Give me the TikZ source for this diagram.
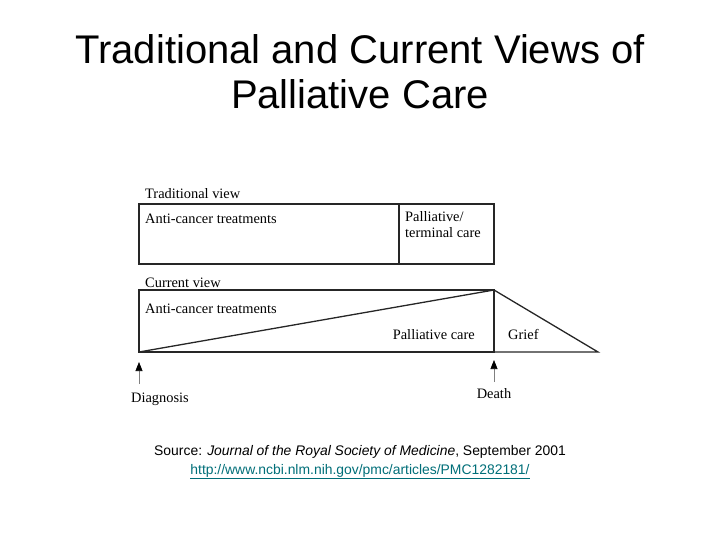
\documentclass[tikz,border=0pt]{standalone}
\usepackage{fontspec}
\setmainfont{Liberation Serif}
\newfontfamily\titlefont{Liberation Sans}
\usepackage{xcolor}
\usetikzlibrary{arrows.meta}
\definecolor{linkteal}{RGB}{0,110,120}

\begin{document}
\begin{tikzpicture}[x=1pt, y=-1pt,
    boxline/.style={line width=1.3pt, black!85},
    boxtext/.style={font=\fontsize{14.4}{16}\selectfont, inner sep=0pt},
    marker/.style={-{Triangle[width=7pt,length=9pt,black]}, gray, line width=0.6pt}]

        % Page frame
        \useasboundingbox (0,0) rectangle (720,540);

        % Title (base anchor sits on the second line)
        \node[font=\titlefont\fontsize{40}{45}\selectfont, align=center, anchor=base] (title) at (360,109)
            {Traditional and Current Views of\\Palliative Care};

        % Traditional view box
        \coordinate (tl) at (139,204);
        \coordinate (tr) at (494,264);
        \coordinate (tdivtop) at (399,204);
        \coordinate (tdivbot) at (399,264);
        \draw[boxline] (tl) rectangle (tr);
        \draw[boxline] (tdivtop) -- (tdivbot);
        \node[boxtext, anchor=base west] (tvlabel) at (145,199) {Traditional view};
        \node[boxtext, anchor=base west] (tanti) at (145,223) {Anti-cancer treatments};
        \node[boxtext, anchor=north west, align=left] (tpall) at (405,211) {Palliative/\\terminal care};

        % Current view box with diagonal
        \coordinate (cl) at (139,290);
        \coordinate (cbl) at (139,352);
        \coordinate (ctr) at (494,290);
        \coordinate (cbr) at (494,352);
        \coordinate (gend) at (598,352);
        \draw[boxline] (cl) -- (ctr) -- (cbr) -- (cbl) -- cycle;
        \draw[boxline] (cbl) -- (ctr) -- (gend) -- (cbr);
        \node[boxtext, anchor=base west] (cvlabel) at (145,287) {Current view};
        \node[boxtext, anchor=base west] (canti) at (145,313) {Anti-cancer treatments};
        \node[boxtext, anchor=base east] (cpall) at (475,339) {Palliative care};
        \node[boxtext, anchor=base west] (grief) at (508,339) {Grief};

        % Diagnosis and death markers
        \coordinate (diagfoot) at (139,384);
        \coordinate (diagtip) at (139,362);
        \coordinate (deathfoot) at (494,382);
        \coordinate (deathtip) at (494,360);
        \draw[marker] (diagfoot) -- (diagtip);
        \draw[marker] (deathfoot) -- (deathtip);
        \node[boxtext, anchor=base] (diag) at (160,402) {Diagnosis};
        \node[boxtext, anchor=base] (death) at (494,398) {Death};

        % Source line
        \node[font=\titlefont\fontsize{13.9}{16}\selectfont, anchor=base] (source) at (360,455)
            {Source: \textit{Journal of the Royal Society of Medicine}, September 2001};
        \node[font=\titlefont\fontsize{13.9}{16}\selectfont, anchor=base, text=linkteal] (url) at (360,474)
            {\underline{http://www.ncbi.nlm.nih.gov/pmc/articles/PMC1282181/}};

    \end{tikzpicture}
\end{document}
